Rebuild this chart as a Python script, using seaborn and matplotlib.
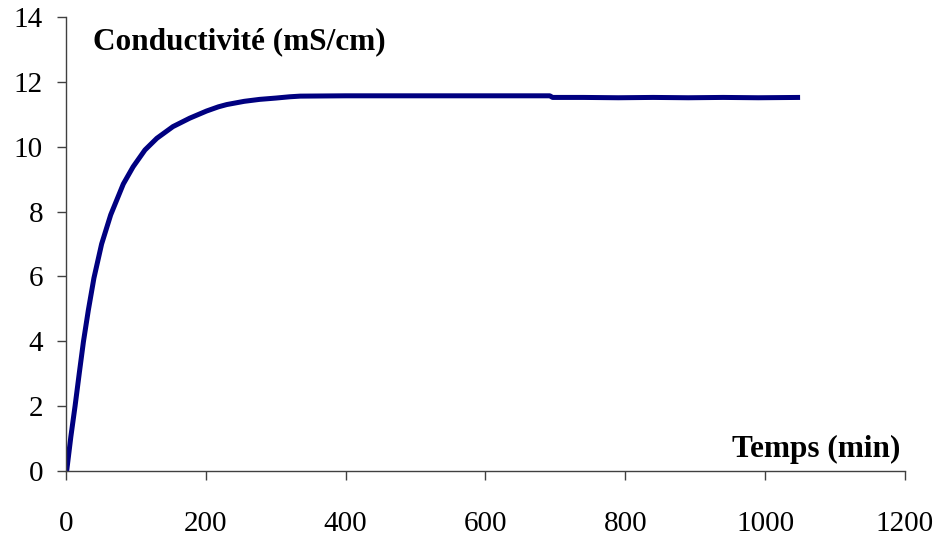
import matplotlib
matplotlib.use('Agg')
import matplotlib.pyplot as plt
import seaborn as sns
import pandas as pd

# valeurs
temps = [1, 7, 13, 19, 25, 32, 40, 51, 64, 82, 96, 113, 130, 153, 177, 201, 218,
         230, 255, 277, 300, 320, 335, 400, 450, 500, 550, 600, 650, 692,
         696, 740, 790, 840, 890, 940, 990, 1050]
conductivite = [0.0, 1.06, 2.0, 3.01, 3.99, 4.96, 5.95, 7.0, 7.9, 8.85, 9.38, 9.9,
                10.26, 10.62, 10.88, 11.1, 11.23, 11.3, 11.4, 11.46, 11.5, 11.54,
                11.56, 11.57, 11.57, 11.57, 11.57, 11.57, 11.57, 11.57,
                11.52, 11.52, 11.51, 11.52, 11.51, 11.52, 11.51, 11.52]
xticks = [0, 200, 400, 600, 800, 1000, 1200]
yticks = [0, 2, 4, 6, 8, 10, 12, 14]

df = pd.DataFrame({'temps': temps, 'cond': conductivite})

sns.set_style('ticks')
plt.rcParams['font.family'] = ['Liberation Serif', 'DejaVu Serif']

fig = plt.figure(figsize=(9.41, 5.38), dpi=100)
ax = fig.add_axes([0.0701, 0.1245, 0.8916, 0.8439])

sns.lineplot(data=df, x='temps', y='cond', ax=ax, color='#000080', linewidth=3.6,
             solid_joinstyle='round', solid_capstyle='butt')

ax.set_xlim(0, 1200)
ax.set_ylim(0, 14)
ax.set_xticks(xticks)
ax.set_yticks(yticks)
ax.set_xticklabels([str(v) for v in xticks])
ax.set_yticklabels([str(v) for v in yticks])
ax.set_xlabel('')
ax.set_ylabel('')

for s in ['top', 'right']:
    ax.spines[s].set_visible(False)
for s in ['left', 'bottom']:
    ax.spines[s].set_color('#404040')
    ax.spines[s].set_linewidth(1.0)

ax.tick_params(axis='both', direction='out', length=6.5, width=1.0, color='#404040',
               labelsize=21, labelcolor='black')
ax.tick_params(axis='y', pad=10)
ax.tick_params(axis='x', pad=22)

ax.text(0.032, 13.23, 'Conductivité (mS/cm)', fontsize=22.5, fontweight='bold',
        color='black', ha='left', va='center', transform=ax.get_yaxis_transform())
ax.text(1193, 0.65, 'Temps (min)', fontsize=22.5, fontweight='bold',
        color='black', ha='right', va='center')

fig.savefig('out.png', dpi=100)
plt.close(fig)
